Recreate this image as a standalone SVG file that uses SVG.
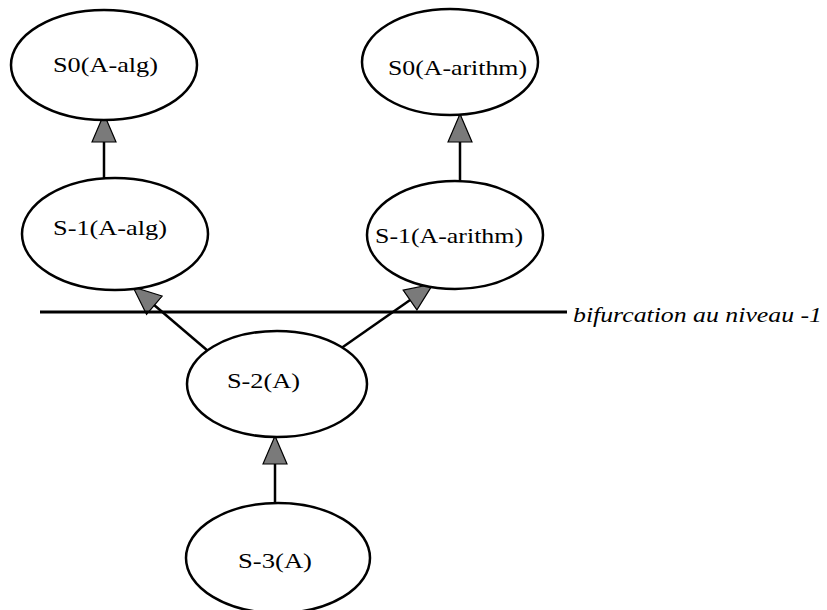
<svg xmlns="http://www.w3.org/2000/svg" width="827" height="610" viewBox="0 0 827 610">
<defs>
<style>
.node ellipse{fill:#fff;stroke:#000;stroke-width:2.5}
.node text{font-family:"Liberation Serif","Times New Roman",serif;font-size:21px;fill:#000}
.edge{stroke:#000;stroke-width:2.5;fill:none;marker-end:url(#arr)}
.note{font-family:"Liberation Serif","Times New Roman",serif;font-size:21px;font-style:italic;fill:#000}
</style>
<marker id="arr" viewBox="0 0 30 26" refX="29" refY="13" markerWidth="30" markerHeight="26" markerUnits="userSpaceOnUse" orient="auto">
<path d="M1,1 L29,13 L1,25 z" fill="#7a7a7a" stroke="#000" stroke-width="1.2"/>
</marker>
</defs>
<rect width="827" height="610" fill="#fff"/>
<g id="connectors">
<line class="edge" x1="104" y1="188" x2="104" y2="114"/>
<line class="edge" x1="460" y1="183" x2="460" y2="114"/>
<line class="edge" x1="208" y1="351" x2="133" y2="287"/>
<line class="edge" x1="340" y1="349" x2="433" y2="284"/>
<line class="edge" x1="275" y1="503" x2="275" y2="436"/>
</g>
<line x1="40" y1="312" x2="567" y2="312" stroke="#000" stroke-width="3"/>
<text class="note" x="573" y="322" textLength="249" lengthAdjust="spacingAndGlyphs">bifurcation au niveau -1</text>
<g id="s0-alg" class="node">
<ellipse cx="104" cy="65" rx="93" ry="55"/>
<text x="53" y="72" textLength="105" lengthAdjust="spacingAndGlyphs">S0(A-alg)</text>
</g>
<g id="s0-arithm" class="node">
<ellipse cx="450" cy="62" rx="88" ry="53"/>
<text x="388" y="75" textLength="139" lengthAdjust="spacingAndGlyphs">S0(A-arithm)</text>
</g>
<g id="s-1-alg" class="node">
<ellipse cx="115" cy="234" rx="93" ry="56"/>
<text x="53" y="235" textLength="114" lengthAdjust="spacingAndGlyphs">S-1(A-alg)</text>
</g>
<g id="s-1-arithm" class="node">
<ellipse cx="455" cy="235" rx="88" ry="54"/>
<text x="375" y="243" textLength="148" lengthAdjust="spacingAndGlyphs">S-1(A-arithm)</text>
</g>
<g id="s-2" class="node">
<ellipse cx="277" cy="384" rx="90" ry="53"/>
<text x="227" y="388" textLength="73" lengthAdjust="spacingAndGlyphs">S-2(A)</text>
</g>
<g id="s-3" class="node">
<ellipse cx="278" cy="558" rx="92" ry="55"/>
<text x="238" y="568" textLength="74" lengthAdjust="spacingAndGlyphs">S-3(A)</text>
</g>
</svg>
